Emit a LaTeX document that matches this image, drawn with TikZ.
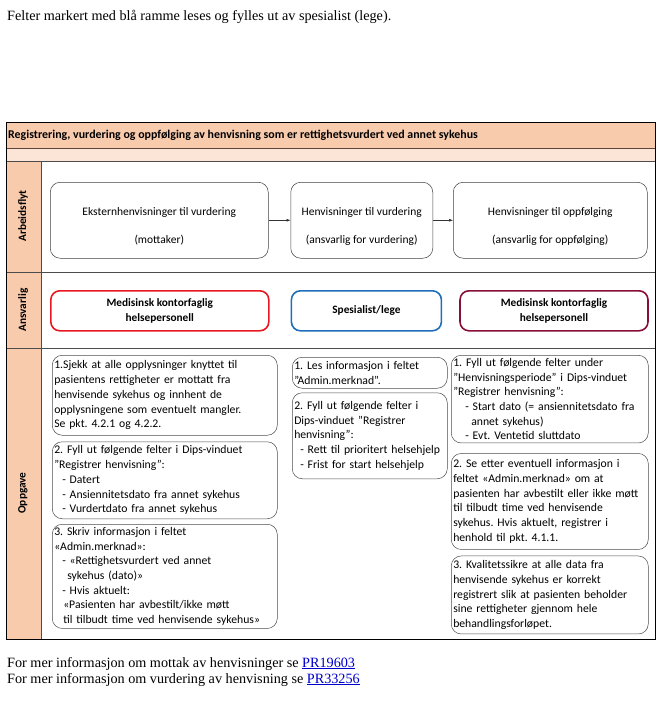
\documentclass[tikz,border=0pt]{standalone}
\usepackage{fontspec}
\setmainfont{Liberation Serif}
\newfontfamily\calibri{Carlito}
\usepackage{tikz}
\usetikzlibrary{arrows.meta, positioning}
\definecolor{laneorange}{RGB}{248, 203, 173}
\definecolor{lanelight}{RGB}{252, 228, 214}
\definecolor{laneline}{RGB}{90, 70, 60}
\definecolor{medred}{RGB}{232, 24, 32}
\definecolor{specblue}{RGB}{30, 110, 185}
\definecolor{medwine}{RGB}{135, 15, 55}
\definecolor{linkblue}{RGB}{0, 0, 204}
\frenchspacing

\begin{document}
\begin{tikzpicture}[
    x=1pt, y=-1pt,
    every node/.style = {font=\calibri\fontsize{11.5}{13}\selectfont},
    flowbox/.style = {draw=black!75, rounded corners=10pt, align=center,
                      minimum height=76pt, line width=0.5pt, inner sep=2pt},
    rolebox/.style = {rounded corners=9pt, align=center, line width=1.6pt,
                      minimum height=40pt, inner sep=2pt,
                      font=\calibri\bfseries\fontsize{11.3}{15}\selectfont},
    taskbox/.style = {draw=black!70, rounded corners=10pt, align=left,
                      line width=0.5pt, inner xsep=2pt, inner ysep=3pt,
                      font=\calibri\fontsize{11.7}{14.7}\selectfont},
    lanelabel/.style = {rotate=90, font=\calibri\bfseries\fontsize{11.3}{13}\selectfont},
    flowarrow/.style = {-{Latex[length=4pt, width=3pt]}, line width=0.5pt, color=black!80}
]
  \useasboundingbox (0,0) rectangle (668,706);

  % notes above and below
  \node[anchor=base west, inner sep=0pt, font=\fontsize{14.2}{16}\selectfont] (note) at (7,21)
    {Felter markert med blå ramme leses og fylles ut av spesialist (lege).};
  \node[anchor=base west, inner sep=0pt, align=left, font=\fontsize{14.2}{16}\selectfont] (refs) at (7,683)
    {For mer informasjon om mottak av henvisninger se \textcolor{linkblue}{\underline{PR19603}}\\
     For mer informasjon om vurdering av henvisning se \textcolor{linkblue}{\underline{PR33256}}};

  % lanes
  \fill[laneorange] (6,122) rectangle (655,148);
  \fill[lanelight] (6,148) rectangle (655,161);
  \fill[laneorange] (6,161) rectangle (41,639);
  \draw[laneline, line width=0.5pt] (6,148) -- (655,148);
  \draw[black!70, line width=0.5pt] (6,161) -- (655,161);
  \draw[black!70, line width=0.5pt] (6,272) -- (655,272);
  \draw[black!70, line width=0.5pt] (6,348) -- (655,348);
  \draw[black!70, line width=0.5pt] (41,161) -- (41,639);
  \draw[black, line width=0.9pt] (6,122) rectangle (655,639);

  \node[anchor=west, inner sep=0pt, font=\calibri\bfseries\fontsize{11.9}{13}\selectfont] (title) at (8,135)
    {Registrering, vurdering og oppfølging av henvisning som er rettighetsvurdert ved annet sykehus};
  \node[lanelabel] (arbeidsflyt) at (23,216) {Arbeidsflyt};
  \node[lanelabel] (ansvarlig) at (23,310) {Ansvarlig};
  \node[lanelabel] (oppgave) at (23,493) {Oppgave};

  % Arbeidsflyt
  \node[flowbox, minimum width=218pt, anchor=north west] (ekstern) at (50,182)
    {\rule{0pt}{20pt}Eksternhenvisninger til vurdering\\[15pt] (mottaker)};
  \node[flowbox, minimum width=142pt, right=22pt of ekstern] (vurdering)
    {\rule{0pt}{20pt}Henvisninger til vurdering\\[15pt] (ansvarlig for vurdering)};
  \node[flowbox, minimum width=194pt, right=20pt of vurdering] (oppfolging)
    {\rule{0pt}{20pt}Henvisninger til oppfølging\\[15pt] (ansvarlig for oppfølging)};

  \draw[flowarrow] (ekstern) -- (vurdering);
  \draw[flowarrow] (vurdering) -- (oppfolging);

  % Ansvarlig
  \node[rolebox, draw=medred, minimum width=218pt, anchor=north west] (medkontor) at (50,290)
    {Medisinsk kontorfaglig\\ helsepersonell};
  \node[rolebox, draw=specblue, minimum width=150pt, right=21pt of medkontor] (spesialist)
    {Spesialist/lege};
  \node[rolebox, draw=medwine, minimum width=188pt, right=17pt of spesialist] (medoppf)
    {Medisinsk kontorfaglig\\ helsepersonell};

  % Oppgave, kolonne 1
  \node[taskbox, text width=221pt, minimum height=80pt, anchor=north west] (sjekk) at (52,355)
    {1.Sjekk at alle opplysninger knyttet til\\
     pasientens rettigheter er mottatt fra\\
     henvisende sykehus og innhent de\\
     opplysningene som eventuelt mangler.\\
     Se pkt. 4.2.1 og 4.2.2.};
  \node[taskbox, text width=221pt, minimum height=77pt, below=6pt of sjekk] (registrer)
    {2. Fyll ut følgende felter i Dips-vinduet\\
     ”Registrer henvisning”:\\
     \hspace*{8pt}- Datert\\
     \hspace*{8pt}- Ansiennitetsdato fra annet sykehus\\
     \hspace*{8pt}- Vurdertdato fra annet sykehus};
  \node[taskbox, text width=221pt, minimum height=103pt, below=5pt of registrer] (merknad)
    {3. Skriv informasjon i feltet\\
     «Admin.merknad»:\\
     \hspace*{8pt}- «Rettighetsvurdert ved annet\\
     \hspace*{13pt}sykehus (dato)»\\
     \hspace*{8pt}- Hvis aktuelt:\\
     \hspace*{9pt}«Pasienten har avbestilt/ikke møtt\\
     \hspace*{9pt}til tilbudt time ved henvisende sykehus»};

  % Oppgave, kolonne 2
  \node[taskbox, text width=151pt, minimum height=31pt, anchor=north west] (lesinfo) at (292,357)
    {1. Les informasjon i feltet\\
     ”Admin.merknad”.};
  \node[taskbox, text width=151pt, minimum height=86pt, below=4pt of lesinfo] (frist)
    {2. Fyll ut følgende felter i\\
     Dips-vinduet ”Registrer\\
     henvisning”:\\
     \hspace*{6pt}- Rett til prioritert helsehjelp\\
     \hspace*{6pt}- Frist for start helsehjelp};

  % Oppgave, kolonne 3
  \node[taskbox, text width=193pt, minimum height=86pt, anchor=north west] (periode) at (451,355)
    {1. Fyll ut følgende felter under\\
     ”Henvisningsperiode” i Dips-vinduet\\
     ”Registrer henvisning”:\\
     \hspace*{12pt}- Start dato (= ansiennitetsdato fra\\
     \hspace*{18pt}annet sykehus)\\
     \hspace*{12pt}- Evt. Ventetid sluttdato};
  \node[taskbox, text width=193pt, minimum height=96pt, below=10pt of periode] (seetter)
    {2. Se etter eventuell informasjon i\\
     feltet «Admin.merknad» om at\\
     pasienten har avbestilt eller ikke møtt\\
     til tilbudt time ved henvisende\\
     sykehus. Hvis aktuelt, registrer i\\
     henhold til pkt. 4.1.1.};
  \node[taskbox, text width=193pt, minimum height=78pt, below=6pt of seetter] (kvalitet)
    {3. Kvalitetssikre at alle data fra\\
     henvisende sykehus er korrekt\\
     registrert slik at pasienten beholder\\
     sine rettigheter gjennom hele\\
     behandlingsforløpet.};
\end{tikzpicture}
\end{document}
